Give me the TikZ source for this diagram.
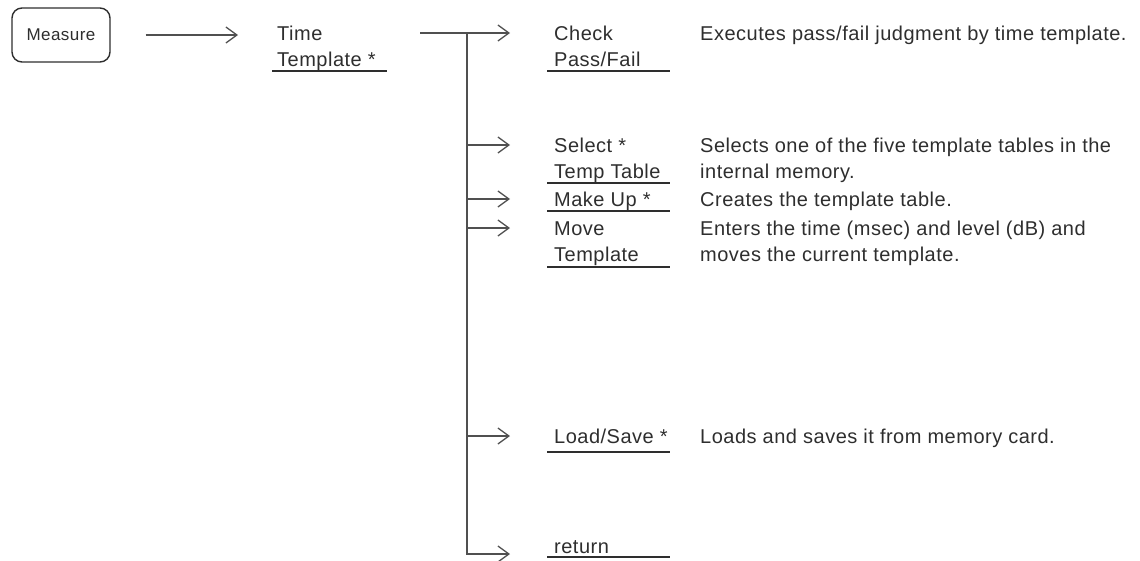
\documentclass[tikz,border=0pt]{standalone}
\usepackage{fontspec}
\setmainfont{Liberation Sans}[LetterSpace=2.5]
\usetikzlibrary{arrows.meta,calc}
\definecolor{ink}{HTML}{2E2E2E}
\definecolor{wire}{HTML}{505050}
\newcommand{\lblfont}{\fontsize{20}{26}\selectfont}
\newcommand{\twol}[2]{\begin{tabular}[t]{@{}l@{}}#1\\#2\end{tabular}}
\begin{document}
\begin{tikzpicture}[x=1pt,y=-1pt,
  lbl/.style={anchor=base west, inner sep=0pt, text=ink, font=\lblfont},
  desc/.style={anchor=base west, inner sep=0pt, text=ink, font=\lblfont},
  arr/.style={draw=wire, line width=1.3pt, -{Straight Barb[length=11pt,width=16pt]}},
  uline/.style={draw=ink, line width=1.3pt},
  menukey/.style={draw=ink, line width=1.4pt, rounded corners=10pt, minimum width=98pt, minimum height=54pt, inner sep=0pt, font=\fontsize{17}{20}\selectfont, text=ink}
]
\useasboundingbox (0,0) rectangle (1140,560);

% key and first level
\node[menukey] (meas) at (61,35) {Measure};
\node[lbl] (tt) at (277,40) {\twol{Time}{Template *}};
\draw[uline] ($(tt.base west)+(-5,31)$) -- ++(115,0);
\draw[arr, shorten <=35pt, shorten >=39pt] (meas.east) -- (meas.east -| tt.west);

% menu labels
\node[lbl] (chk) at (554,40)  {\twol{Check}{Pass/Fail}};
\node[lbl] (sel) at (554,152) {\twol{Select *}{Temp Table}};
\node[lbl] (mku) at (554,206) {Make Up *};
\node[lbl] (mov) at (554,235) {\twol{Move}{Template}};
\node[lbl] (lds) at (554,443) {Load/Save *};
\node[lbl] (ret) at (554,553) {return};

% underlines
\draw[uline] ($(chk.base west)+(-7,31)$) -- ++(123,0);
\draw[uline] ($(sel.base west)+(-7,31)$) -- ++(123,0);
\draw[uline] ($(mku.base west)+(-7,5)$) -- ++(123,0);
\draw[uline] ($(mov.base west)+(-7,32)$) -- ++(123,0);
\draw[uline] ($(lds.base west)+(-7,9)$) -- ++(123,0);
\draw[uline] ($(ret.base west)+(-7,4)$) -- ++(123,0);

% descriptions
\node[desc] (dchk) at (700,40)  {Executes pass/fail judgment by time template.};
\node[desc] (dsel) at (700,152) {\twol{Selects one of the five template tables in the}{internal memory.}};
\node[desc] (dmku) at (700,206) {Creates the template table.};
\node[desc] (dmov) at (700,235) {\twol{Enters the time (msec) and level (dB) and}{moves the current template.}};
\node[desc] (dlds) at (700,443) {Loads and saves it from memory card.};

% tree connectors
\coordinate (t0) at (420,33);
\coordinate (j)  at (467,33);
\coordinate (bs) at (467,145);
\coordinate (bm) at (467,199);
\coordinate (bv) at (467,228);
\coordinate (bl) at (467,436);
\coordinate (rb) at (467,554);
\draw[arr, shorten >=44pt] (t0) -- (t0 -| chk.west);
\draw[arr, shorten >=44pt] (bs) -- (bs -| sel.west);
\draw[arr, shorten >=44pt] (bm) -- (bm -| mku.west);
\draw[arr, shorten >=44pt] (bv) -- (bv -| mov.west);
\draw[arr, shorten >=44pt] (bl) -- (bl -| lds.west);
\draw[arr, shorten >=44pt] (j) -- (rb) -- (rb -| ret.west);
\end{tikzpicture}
\end{document}
